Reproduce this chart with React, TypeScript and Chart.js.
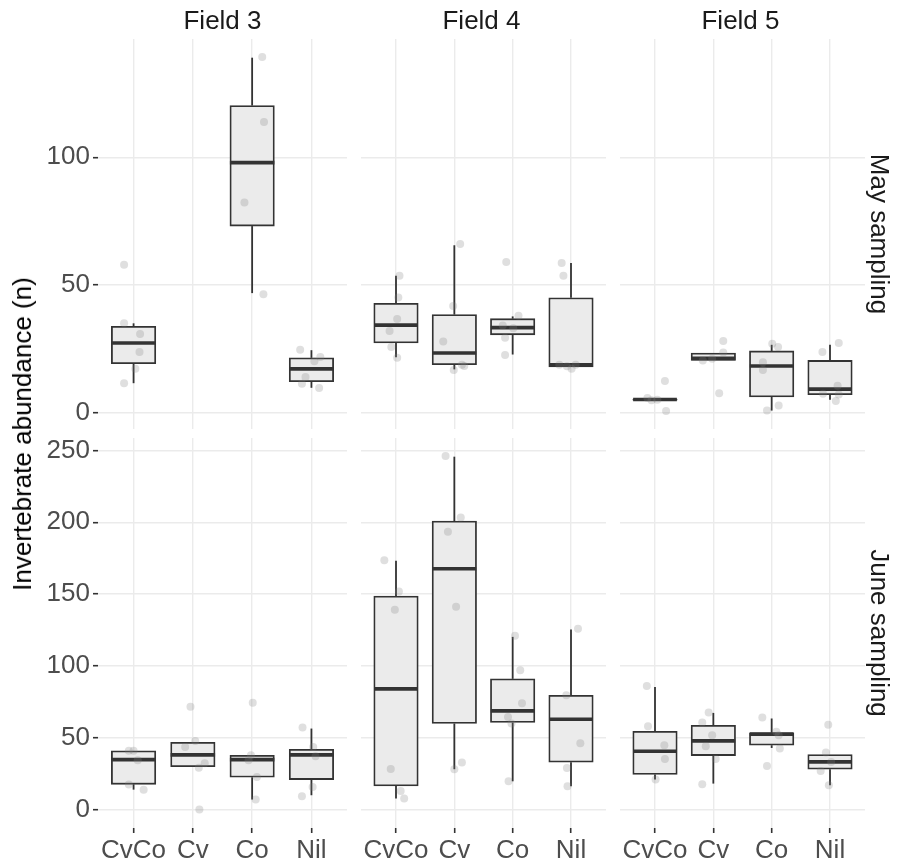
import React, { useEffect, useRef } from 'react';
import { Chart, registerables } from 'chart.js';

Chart.register(...registerables);

// ---- data -------------------------------------------------------------
const CATEGORIES = ['CvCo', 'Cv', 'Co', 'Nil'];
const FIELDS = ['Field 3', 'Field 4', 'Field 5'];
const SAMPLINGS = ['May sampling', 'June sampling'];
const Y_AXIS_TITLE = 'Invertebrate abundance (n)';

// y ticks and y limits per sampling row
const MAY_TICKS = [0, 50, 100];
const JUNE_TICKS = [0, 50, 100, 150, 200, 250];
const MAY_LIMITS = [-6.2, 146.2];
const JUNE_LIMITS = [-12.8, 258.6];

// box statistics per category: [lower whisker, Q1, median, Q3, upper whisker]
type Box = [number, number, number, number, number] | null;

const MAY_BOXES_FIELD3: Box[] = [
  [11.7, 19.3, 27.4, 33.9, 35.1],
  null,
  [46.9, 73.1, 97.9, 120.2, 138.9],
  [9.9, 12.3, 17.3, 21.6, 24.6],
];
const MAY_BOXES_FIELD4: Box[] = [
  [21.8, 27.4, 34.4, 42.9, 53.7],
  [17.1, 18.9, 23.5, 38.5, 65.6],
  [22.9, 30.6, 33.4, 36.9, 37.8],
  [18.1, 18.1, 18.9, 45.1, 58.7],
];
const MAY_BOXES_FIELD5: Box[] = [
  [5.0, 5.1, 5.3, 5.5, 5.9],
  [20.6, 20.6, 21.4, 23.5, 23.5],
  [1.0, 6.3, 18.4, 24.3, 26.7],
  [5.2, 7.2, 9.4, 20.6, 26.7],
];
const JUNE_BOXES_FIELD3: Box[] = [
  [13.9, 17.6, 34.8, 40.9, 40.9],
  [29.9, 29.9, 38.1, 46.9, 46.9],
  [7.0, 22.5, 34.8, 37.8, 37.8],
  [10.0, 20.9, 38.1, 42.0, 56.4],
];
const JUNE_BOXES_FIELD4: Box[] = [
  [7.7, 16.5, 84.0, 148.6, 173.2],
  [28.1, 59.9, 167.6, 200.8, 245.6],
  [19.7, 60.6, 68.7, 91.0, 120.2],
  [16.2, 33.0, 62.9, 79.6, 125.3],
];
const JUNE_BOXES_FIELD5: Box[] = [
  [20.9, 24.4, 40.6, 54.5, 85.4],
  [18.1, 37.6, 47.8, 58.7, 67.3],
  [42.9, 44.8, 52.5, 53.4, 63.4],
  [16.9, 28.1, 33.2, 38.3, 38.3],
];

// individual observations per category: [horizontal jitter, abundance]
type Obs = [number, number][];

const MAY_POINTS_FIELD3: Obs[] = [
  [[-0.16, 58.0], [-0.16, 35.1], [0.11, 30.9], [0.10, 23.9], [0.03, 17.3], [-0.16, 11.7]],
  [],
  [[0.17, 139.2], [0.20, 113.8], [-0.13, 82.3], [0.19, 46.5]],
  [[-0.19, 24.8], [0.15, 21.9], [0.05, 20.3], [-0.10, 14.1], [-0.16, 11.5], [0.13, 9.8]],
];
const MAY_POINTS_FIELD4: Obs[] = [
  [[0.06, 53.7], [0.04, 45.2], [0.02, 36.8], [-0.11, 32.1], [-0.08, 25.8], [0.02, 21.6]],
  [[0.10, 66.1], [-0.02, 41.9], [-0.19, 28.0], [0.13, 18.9], [0.17, 18.4], [-0.01, 16.9]],
  [[-0.11, 59.1], [0.10, 38.1], [-0.17, 34.2], [0.01, 33.2], [-0.13, 29.5], [-0.13, 22.7]],
  [[-0.16, 58.7], [-0.13, 53.7], [-0.20, 18.9], [-0.07, 18.3], [0.01, 17.3], [0.08, 18.9]],
];
const MAY_POINTS_FIELD5: Obs[] = [
  [[0.17, 12.6], [-0.13, 5.9], [-0.06, 5.0], [0.04, 5.2], [0.19, 0.8]],
  [[0.17, 28.2], [0.17, 23.7], [-0.18, 20.6], [-0.02, 21.3], [0.10, 7.8]],
  [[0.01, 27.1], [0.11, 25.8], [-0.15, 19.9], [-0.15, 16.9], [0.12, 3.0], [-0.08, 1.0]],
  [[0.15, 27.4], [-0.13, 23.9], [0.13, 10.7], [-0.12, 7.6], [0.15, 7.3], [0.10, 4.7]],
];
const JUNE_POINTS_FIELD3: Obs[] = [
  [[-0.08, 40.9], [0.0, 40.9], [0.07, 34.4], [-0.08, 17.4], [0.17, 13.9]],
  [[-0.04, 71.5], [0.04, 47.8], [-0.13, 43.6], [0.20, 32.3], [0.10, 29.2], [0.11, 0.0]],
  [[0.01, 74.3], [-0.02, 37.8], [-0.06, 34.4], [0.08, 22.7], [0.06, 7.0]],
  [[-0.15, 57.1], [0.03, 43.6], [0.07, 37.1], [0.02, 15.8], [-0.16, 9.3]],
];
const JUNE_POINTS_FIELD4: Obs[] = [
  [[-0.20, 173.6], [0.05, 151.8], [-0.02, 139.0], [-0.09, 28.3], [0.08, 13.0], [0.14, 7.7]],
  [[-0.15, 246.1], [0.11, 203.3], [-0.11, 193.4], [0.03, 141.1], [0.13, 32.7], [0.0, 28.1]],
  [[0.04, 120.9], [0.13, 97.0], [0.16, 74.0], [-0.08, 64.5], [-0.02, 59.9], [-0.07, 19.7]],
  [[0.12, 125.8], [-0.08, 79.6], [0.16, 46.2], [-0.07, 29.0], [-0.06, 16.2]],
];
const JUNE_POINTS_FIELD5: Obs[] = [
  [[-0.14, 86.1], [-0.12, 58.0], [0.16, 44.8], [0.17, 35.3], [0.01, 20.9]],
  [[-0.08, 67.5], [-0.19, 60.6], [-0.02, 51.8], [-0.13, 44.1], [0.04, 35.3], [-0.19, 17.6]],
  [[-0.16, 64.1], [0.08, 54.1], [0.12, 51.8], [0.14, 42.5], [-0.08, 30.4]],
  [[-0.03, 59.0], [-0.07, 39.7], [0.02, 33.2], [-0.16, 26.9], [-0.02, 16.9]],
];

const BOXES = [
  [MAY_BOXES_FIELD3, MAY_BOXES_FIELD4, MAY_BOXES_FIELD5],
  [JUNE_BOXES_FIELD3, JUNE_BOXES_FIELD4, JUNE_BOXES_FIELD5],
];
const POINTS = [
  [MAY_POINTS_FIELD3, MAY_POINTS_FIELD4, MAY_POINTS_FIELD5],
  [JUNE_POINTS_FIELD3, JUNE_POINTS_FIELD4, JUNE_POINTS_FIELD5],
];
const ROW_TICKS = [MAY_TICKS, JUNE_TICKS];
const ROW_LIMITS = [MAY_LIMITS, JUNE_LIMITS];

// ---- layout & style ---------------------------------------------------
const COL_LEFT = [98, 357, 616];
const PANEL_W = 249;
const ROW_TOP = [39, 438];
const PANEL_H = 390;
const Y_AXIS_W = 98;
const X_AXIS_H = 42;
const PAD = 26;
const X_EXPAND = 0.6;
const BOX_WIDTH = 0.75;

const FONT_FAMILY = '"Liberation Sans", Arial, Helvetica, sans-serif';
const FONT_SIZE = 26;
const GRID_COLOR = '#EBEBEB';
const INK = '#333333';
const TICK_TEXT = '#4D4D4D';
const BOX_FILL = '#EBEBEB';
const POINT_FILL = 'rgba(128,128,128,0.25)';

function Panel({ row, col }: { row: number; col: number }) {
  const ref = useRef<HTMLCanvasElement | null>(null);
  const isLeft = col === 0;
  const isBottom = row === 1;
  const axisW = isLeft ? Y_AXIS_W : 0;
  const width = axisW + PANEL_W + PAD;
  const height = PAD + PANEL_H + (isBottom ? X_AXIS_H : PAD);
  const left = COL_LEFT[col] - axisW;
  const top = ROW_TOP[row] - PAD;

  useEffect(() => {
    const boxes = BOXES[row][col];
    const obs = POINTS[row][col];
    const [yMin, yMax] = ROW_LIMITS[row];
    const catPx = PANEL_W / (CATEGORIES.length - 1 + 2 * X_EXPAND);

    const boxData = boxes
      .map((b, i) => (b ? { x: i + 1, y: [b[1], b[3]] } : null))
      .filter((d) => d !== null);
    const pointData = obs.flatMap((list, i) => list.map(([dx, v]) => ({ x: i + 1 + dx, y: v })));

    // whiskers and median bars, painted right after the boxes and under the points
    const boxLines = {
      id: 'boxLines',
      afterDatasetDraw(chart: any, args: any) {
        if (args.index !== 1) return;
        const xs = chart.scales.x;
        const ys = chart.scales.y;
        const ctx = chart.ctx as CanvasRenderingContext2D;
        ctx.save();
        ctx.strokeStyle = INK;
        ctx.lineCap = 'butt';
        const seg = (x1: number, y1: number, x2: number, y2: number) => {
          ctx.beginPath();
          ctx.moveTo(x1, y1);
          ctx.lineTo(x2, y2);
          ctx.stroke();
        };
        boxes.forEach((b, i) => {
          if (!b) return;
          const cx = xs.getPixelForValue(i + 1);
          const x0 = xs.getPixelForValue(i + 1 - BOX_WIDTH / 2);
          const x1 = xs.getPixelForValue(i + 1 + BOX_WIDTH / 2);
          ctx.lineWidth = 1.8;
          seg(cx, ys.getPixelForValue(b[3]), cx, ys.getPixelForValue(b[4]));
          seg(cx, ys.getPixelForValue(b[1]), cx, ys.getPixelForValue(b[0]));
          ctx.lineWidth = 3.6;
          const my = ys.getPixelForValue(b[2]);
          seg(x0, my, x1, my);
        });
        ctx.restore();
      },
    };

    const font = { family: FONT_FAMILY, size: FONT_SIZE };
    const chart = new Chart(ref.current as HTMLCanvasElement, {
      type: 'bar',
      data: {
        datasets: [
          {
            type: 'scatter',
            data: pointData,
            pointRadius: 4,
            pointHoverRadius: 4,
            backgroundColor: POINT_FILL,
            borderWidth: 0,
          } as any,
          {
            type: 'bar',
            data: boxData as any,
            backgroundColor: BOX_FILL,
            borderColor: INK,
            borderWidth: 1.8,
            borderSkipped: false,
            barThickness: catPx * BOX_WIDTH,
          } as any,
        ],
      },
      options: {
        responsive: false,
        animation: false,
        events: [],
        layout: { padding: { top: PAD, right: PAD, bottom: isBottom ? 0 : PAD, left: 0 } },
        plugins: { legend: { display: false }, tooltip: { enabled: false } },
        scales: {
          x: {
            type: 'linear',
            min: 1 - X_EXPAND,
            max: CATEGORIES.length + X_EXPAND,
            offset: false,
            afterBuildTicks: (s: any) => {
              s.ticks = CATEGORIES.map((_, i) => ({ value: i + 1 }));
            },
            afterFit: (s: any) => {
              s.height = isBottom ? X_AXIS_H : 0;
            },
            ticks: {
              display: isBottom,
              autoSkip: false,
              maxRotation: 0,
              minRotation: 0,
              padding: 2,
              color: TICK_TEXT,
              font,
              callback: (v: any) => CATEGORIES[Math.round(Number(v)) - 1],
            },
            grid: {
              offset: false,
              color: GRID_COLOR,
              lineWidth: 1.4,
              drawTicks: isBottom,
              tickLength: 5,
              tickColor: INK,
              tickWidth: 1.6,
            },
            border: { display: false },
          },
          y: {
            type: 'linear',
            min: yMin,
            max: yMax,
            afterBuildTicks: (s: any) => {
              s.ticks = ROW_TICKS[row].map((v) => ({ value: v }));
            },
            afterFit: (s: any) => {
              s.width = axisW;
            },
            ticks: {
              display: isLeft,
              padding: 3,
              color: TICK_TEXT,
              font,
            },
            grid: {
              color: GRID_COLOR,
              lineWidth: 1.4,
              drawTicks: isLeft,
              tickLength: 5,
              tickColor: INK,
              tickWidth: 1.6,
            },
            border: { display: false },
          },
        } as any,
      },
      plugins: [boxLines],
    });
    return () => chart.destroy();
  }, [row, col]);

  return (
    <canvas
      ref={ref}
      width={width}
      height={height}
      style={{ position: 'absolute', left, top, width, height }}
    />
  );
}

export default function App() {
  const text: React.CSSProperties = {
    position: 'absolute',
    fontFamily: FONT_FAMILY,
    fontSize: FONT_SIZE,
    whiteSpace: 'nowrap',
    lineHeight: 1,
  };
  return (
    <div
      style={{
        position: 'absolute',
        left: 0,
        top: 0,
        width: 899,
        height: 864,
        overflow: 'hidden',
        background: '#FFFFFF',
      }}
    >
      {SAMPLINGS.map((_, r) => FIELDS.map((__, c) => <Panel key={`${r}-${c}`} row={r} col={c} />))}
      {FIELDS.map((f, c) => (
        <div
          key={f}
          style={{
            ...text,
            color: '#1A1A1A',
            left: COL_LEFT[c] + PANEL_W / 2,
            top: 20,
            transform: 'translate(-50%, -50%)',
          }}
        >
          {f}
        </div>
      ))}
      {SAMPLINGS.map((s, r) => (
        <div
          key={s}
          style={{
            ...text,
            color: '#1A1A1A',
            left: 880,
            top: ROW_TOP[r] + PANEL_H / 2,
            transform: 'translate(-50%, -50%) rotate(90deg)',
          }}
        >
          {s}
        </div>
      ))}
      <div
        style={{
          ...text,
          color: '#000000',
          left: 22,
          top: ROW_TOP[0] + (ROW_TOP[1] + PANEL_H - ROW_TOP[0]) / 2,
          transform: 'translate(-50%, -50%) rotate(-90deg)',
        }}
      >
        {Y_AXIS_TITLE}
      </div>
    </div>
  );
}
